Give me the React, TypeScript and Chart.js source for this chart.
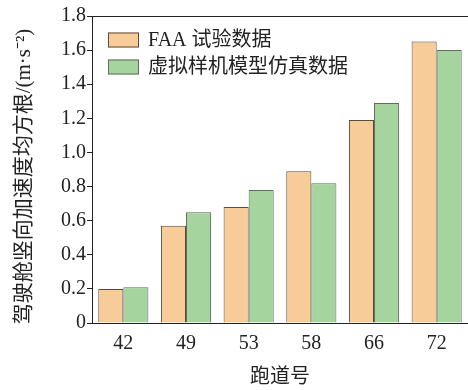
import React, { useEffect, useRef } from "react";
import { Chart, registerables } from "chart.js";

Chart.register(...registerables);

// Runway numbers and RMS vertical cockpit acceleration (m·s⁻²)
const runways = ["42", "49", "53", "58", "66", "72"];
const faaTest = [0.2, 0.57, 0.68, 0.89, 1.19, 1.65];
const simModel = [0.21, 0.65, 0.78, 0.82, 1.29, 1.6];
const seriesNames = ["FAA 试验数据", "虚拟样机模型仿真数据"];
const yTickLabels = ["0", "0.2", "0.4", "0.6", "0.8", "1.0", "1.2", "1.4", "1.6", "1.8"];
const yTitle = "驾驶舱竖向加速度均方根/(m·s⁻²)";
const xTitle = "跑道号";

const FONT = '"Liberation Serif", "Noto Sans CJK SC", serif';
const INK = "#222";

// Frame top edge, vertical axis title and the legend inside the plot area
const framePlugin = {
  id: "frameAndLegend",
  afterDraw(chart: any) {
    const { ctx, chartArea } = chart;
    ctx.save();
    ctx.strokeStyle = INK;
    ctx.lineWidth = 1;
    ctx.beginPath();
    ctx.moveTo(chartArea.left, chartArea.top + 0.5);
    ctx.lineTo(chartArea.right, chartArea.top + 0.5);
    ctx.stroke();

    // y-axis title, rotated, centred slightly below the plot middle
    ctx.save();
    ctx.translate(24, (chartArea.top + chartArea.bottom) / 2 + 7);
    ctx.rotate(-Math.PI / 2);
    ctx.fillStyle = INK;
    ctx.font = `21px ${FONT}`;
    ctx.textAlign = "center";
    ctx.textBaseline = "middle";
    ctx.fillText(yTitle, 0, 0);
    ctx.restore();

    const x0 = chartArea.left + 16;
    const rows = [chartArea.top + 24, chartArea.top + 51];
    chart.data.datasets.forEach((ds: any, i: number) => {
      const cy = rows[i];
      ctx.fillStyle = ds.backgroundColor;
      ctx.fillRect(x0, cy - 7.5, 31, 15);
      ctx.strokeStyle = ds.borderColor;
      ctx.lineWidth = 1;
      ctx.strokeRect(x0 + 0.5, cy - 7, 30, 14);
      ctx.fillStyle = INK;
      ctx.font = `20px ${FONT}`;
      ctx.textAlign = "left";
      ctx.textBaseline = "middle";
      ctx.fillText(ds.label, x0 + 40, cy + 1);
    });
    ctx.restore();
  },
};

export default function App() {
  const ref = useRef<HTMLCanvasElement | null>(null);

  useEffect(() => {
    if (!ref.current) return;
    const chart = new Chart(ref.current, {
      type: "bar",
      data: {
        labels: runways,
        datasets: [
          {
            label: seriesNames[0],
            data: faaTest,
            backgroundColor: "#F8CC98",
            borderColor: "#5a4a3a",
            borderWidth: 1,
            categoryPercentage: 0.8,
            barPercentage: 1.0,
          },
          {
            label: seriesNames[1],
            data: simModel,
            backgroundColor: "#A5D49E",
            borderColor: "#5f6f5c",
            borderWidth: 1,
            categoryPercentage: 0.8,
            barPercentage: 1.0,
          },
        ],
      },
      options: {
        animation: false,
        responsive: true,
        maintainAspectRatio: false,
        layout: { padding: { top: 16, right: 0, left: 0, bottom: 0 } },
        plugins: {
          legend: { display: false },
          tooltip: { enabled: false },
        },
        scales: {
          x: {
            grid: { display: false, drawTicks: false },
            border: { display: true, color: INK, width: 1 },
            ticks: { color: INK, font: { family: FONT, size: 20 }, padding: 9 },
            title: {
              display: true,
              text: xTitle,
              color: INK,
              font: { family: FONT, size: 20 },
              padding: { top: 0, bottom: 0 },
            },
            afterFit(scale: any) {
              scale.height = 67;
            },
          },
          y: {
            min: 0,
            max: 1.8,
            ticks: {
              stepSize: 0.2,
              color: INK,
              font: { family: FONT, size: 20 },
              padding: 1,
              callback: (_v: any, i: number) => yTickLabels[i],
            },
            grid: {
              drawOnChartArea: false,
              drawTicks: true,
              tickLength: 5,
              color: INK,
            },
            border: { display: true, color: INK, width: 1 },
            title: { display: false },
            afterFit(scale: any) {
              scale.width = 92;
            },
          },
        },
      },
      plugins: [framePlugin],
    });
    return () => chart.destroy();
  }, []);

  return (
    <div style={{ position: "fixed", left: 0, top: 0, width: 468, height: 390, background: "#fff" }}>
      <canvas ref={ref} />
    </div>
  );
}
